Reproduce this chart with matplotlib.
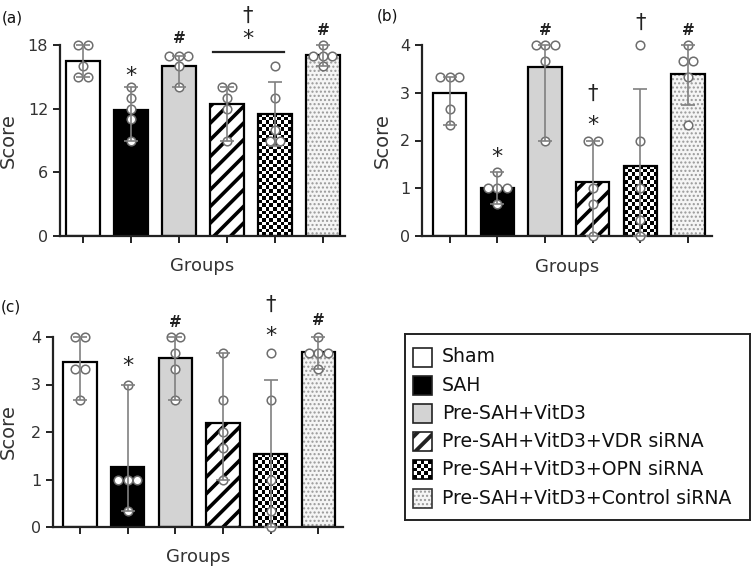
import numpy as np
import matplotlib
matplotlib.use("Agg")
import matplotlib.pyplot as plt
from matplotlib.patches import Rectangle

# ---------------- data ----------------
groups = ["Sham", "SAH", "Pre-SAH+VitD3", "Pre-SAH+VitD3+VDR siRNA",
          "Pre-SAH+VitD3+OPN siRNA", "Pre-SAH+VitD3+Control siRNA"]

means_a = [16.5, 11.9, 16.05, 12.4, 11.5, 17.05]
low_a = [15, 9, 14, 9, 8.5, 16]
high_a = [18, 14, 17, 14, 14.55, 18]
points_a = [[18, 18, 16, 15, 15], [14, 13, 12, 11, 9], [17, 17, 17, 16, 14],
            [14, 14, 13, 12, 9], [16, 13, 10, 9, 9], [18, 17, 17, 17, 16]]

means_b = [3.0, 1.0, 3.53, 1.13, 1.47, 3.4]
low_b = [2.33, 0.67, 2.0, 0.0, 0.0, 2.74]
high_b = [3.33, 1.33, 4.0, 2.0, 3.07, 4.0]
points_b = [[3.33, 3.33, 3.33, 2.67, 2.33], [1.33, 1, 1, 1, 0.67], [4, 4, 4, 3.67, 2],
            [2, 2, 1, 0.67, 0], [4, 2, 1, 0.33, 0], [4, 3.67, 3.67, 3.33, 2.33]]

means_c = [3.48, 1.27, 3.55, 2.2, 1.54, 3.68]
low_c = [2.67, 0.33, 2.67, 1.0, 0.0, 3.33]
high_c = [4.0, 3.0, 4.0, 3.67, 3.1, 4.0]
points_c = [[4, 4, 3.33, 3.33, 2.67], [3, 1, 1, 1, 0.33], [4, 4, 3.67, 3.33, 2.67],
            [3.67, 2.67, 2, 1.67, 1], [3.67, 2.67, 1, 0.33, 0], [4, 3.67, 3.67, 3.67, 3.33]]

yticks_a = [0, 6, 12, 18]
yticks_bc = [0, 1, 2, 3, 4]

# significance marks: (group index, symbol, y value)
marks_a = [(1, "*", 15.1), (2, "#", 18.6), (5, "#", 19.4)]
bracket_a = (3, 4, 17.3)
bracket_marks_a = [("*", 18.55), ("\u2020", 20.7)]
marks_b = [(1, "*", 1.66), (2, "#", 4.31), (3, "*", 2.32), (3, "\u2020", 2.97),
           (4, "\u2020", 4.47), (5, "#", 4.31)]
marks_c = [(1, "*", 3.39), (2, "#", 4.3), (4, "*", 4.03), (4, "\u2020", 4.67), (5, "#", 4.35)]

styles = ["white", "black", "gray", "stripe", "checker", "dots"]

# ---------------- figure ----------------
W, H = 754, 568
fig = plt.figure(figsize=(W / 100, H / 100), dpi=100)
plt.rcParams["font.family"] = ["DejaVu Sans"]

TXT = "#333333"
ERR = "#808080"
PT_EDGE = "#6e6e6e"
BAR_W = 0.7


def px_axes(x0, y_top, x1, y_bot):
    return fig.add_axes([x0 / W, 1 - y_bot / H, (x1 - x0) / W, (y_bot - y_top) / H])


def checker_texture(ax, x, h, w, cell_px):
    trans = ax.transData
    p0 = trans.transform((x - w / 2, 0))
    p1 = trans.transform((x + w / 2, h))
    nx = max(1, int(round(abs(p1[0] - p0[0]) / cell_px)))
    ny = max(1, int(round(abs(p1[1] - p0[1]) / cell_px)))
    ii, jj = np.indices((ny, nx))
    arr = ((ii + jj) % 2).astype(float)
    return arr, (x - w / 2, x + w / 2, 0, h)


def draw_bar(ax, x, h, style, w=BAR_W):
    if style == "white":
        ax.bar(x, h, w, color="white", edgecolor="black", lw=1.6, zorder=1)
    elif style == "black":
        ax.bar(x, h, w, color="black", edgecolor="black", lw=1.6, zorder=1)
    elif style == "gray":
        ax.bar(x, h, w, color="#d3d3d3", edgecolor="black", lw=1.6, zorder=1)
    elif style == "stripe":
        bars = ax.bar(x, h, w, color="white", edgecolor="black", hatch="//", lw=1.6, zorder=1)
        for b in bars:
            if hasattr(b, "set_hatch_linewidth"):
                b.set_hatch_linewidth(2.6)
    elif style == "checker":
        bars = ax.bar(x, h, w, color="white", edgecolor="none", lw=0, zorder=1)
        arr, ext = checker_texture(ax, x, h, w, 3.6)
        im = ax.imshow(arr, extent=ext, cmap="gray", interpolation="nearest",
                       aspect="auto", zorder=1.2, vmin=0, vmax=1)
        im.set_clip_path(bars[0])
        ax.bar(x, h, w, fill=False, edgecolor="black", lw=1.6, zorder=1.5)
    elif style == "dots":
        ax.bar(x, h, w, color="#f5f5f5", edgecolor="#999999", hatch="....", lw=0, zorder=1)
        ax.bar(x, h, w, fill=False, edgecolor="black", lw=1.6, zorder=1.5)


def swarm_x(ax, xc, vals, diam_px=9.5):
    trans = ax.transData
    px_per_unit = trans.transform((1, 0))[0] - trans.transform((0, 0))[0]
    d = diam_px / px_per_unit
    xs = []
    seen = {}
    counts = {}
    for v in vals:
        counts[v] = counts.get(v, 0) + 1
    for v in vals:
        k = seen.get(v, 0)
        n = counts[v]
        xs.append(xc + (k - (n - 1) / 2) * d)
        seen[v] = k + 1
    return xs


def sym_style(sym):
    if sym == "*":
        return 16, "normal"
    if sym == "#":
        return 11, "bold"
    return 15, "normal"


def panel(ax, means, lows, highs, points, yticks, xlim, marks):
    ax.set_xlim(*xlim)
    ax.set_ylim(yticks[0], yticks[-1])
    xs = np.arange(len(means))
    for x, m, s in zip(xs, means, styles):
        draw_bar(ax, x, m, s)
    for x, vals in zip(xs, points):
        px = swarm_x(ax, x, vals)
        ax.plot(px, vals, "o", ms=6.2, mfc="white", mec=PT_EDGE, mew=1.1,
                zorder=3, clip_on=False, ls="none")
    for x, m, lo, hi in zip(xs, means, lows, highs):
        ax.errorbar([x], [m], yerr=[[m - lo], [hi - m]], fmt="none", ecolor=ERR,
                    elinewidth=1.2, capsize=5, capthick=1.2, zorder=4, clip_on=False)
    for gi, sym, yv in marks:
        fs, fw = sym_style(sym)
        ax.text(xs[gi], yv, sym, ha="center", va="center", fontsize=fs, fontweight=fw,
                color="#222222", clip_on=False)
    for side in ["top", "right"]:
        ax.spines[side].set_visible(False)
    for side in ["left", "bottom"]:
        ax.spines[side].set_linewidth(1.6)
        ax.spines[side].set_color("#222222")
    ax.set_xticks(xs)
    ax.set_xticklabels([])
    ax.set_yticks(yticks)
    ax.tick_params(axis="both", direction="out", length=5, width=1.4, color="#222222",
                   labelsize=11.5, labelcolor=TXT)
    ax.set_xlabel("Groups", fontsize=13, color=TXT)
    ax.set_ylabel("Score", fontsize=14, color=TXT)


ax_a = px_axes(60, 45, 345, 236)
panel(ax_a, means_a, low_a, high_a, points_a, yticks_a, (-0.48, 5.46), marks_a)
g0, g1, yb = bracket_a
ax_a.plot([g0 - 0.29, g1 + 0.19], [yb, yb], color="#222222", lw=1.6, clip_on=False)
for sym, yv in bracket_marks_a:
    fs, fw = sym_style(sym)
    ax_a.text((g0 + g1) / 2 - 0.06, yv, sym, ha="center", va="center",
              fontsize=fs, fontweight=fw, color="#222222", clip_on=False)
ax_a.yaxis.set_label_coords(-0.147, 0.5)
ax_a.xaxis.set_label_coords(0.5, -0.11)

ax_b = px_axes(422, 45, 712, 236)
panel(ax_b, means_b, low_b, high_b, points_b, yticks_bc, (-0.58, 5.5), marks_b)
ax_b.yaxis.set_label_coords(-0.103, 0.5)
ax_b.xaxis.set_label_coords(0.5, -0.115)

ax_c = px_axes(53, 337, 343, 527)
panel(ax_c, means_c, low_c, high_c, points_c, yticks_bc, (-0.57, 5.52), marks_c)
ax_c.yaxis.set_label_coords(-0.121, 0.5)
ax_c.xaxis.set_label_coords(0.5, -0.11)

fig.text(2 / W, 1 - 18 / H, "(a)", fontsize=11, va="center", ha="left", color="#111111")
fig.text(377 / W, 1 - 16 / H, "(b)", fontsize=11, va="center", ha="left", color="#111111")
fig.text(1 / W, 1 - 307 / H, "(c)", fontsize=11, va="center", ha="left", color="#111111")

# ---------------- legend (manual) ----------------
LX0, LY0, LX1, LY1 = 405, 334, 750, 520
lax = px_axes(LX0, LY0, LX1, LY1)
lw_, lh_ = LX1 - LX0, LY1 - LY0
lax.set_xticks([])
lax.set_yticks([])
for sp in lax.spines.values():
    sp.set_linewidth(1.4)
    sp.set_color("#222222")
row_y = [23 + 28.2 * i for i in range(len(groups))]
for name, st, yc in zip(groups, styles, row_y):
    x0, s = 8, 19
    if st == "checker":
        lax.add_patch(Rectangle((x0, yc - s / 2), s, s, facecolor="white", edgecolor="none", zorder=1))
        n = 5
        ii, jj = np.indices((n, n))
        lax.imshow(((ii + jj) % 2).astype(float), extent=(x0, x0 + s, yc + s / 2, yc - s / 2),
                   cmap="gray", interpolation="nearest", aspect="auto", vmin=0, vmax=1, zorder=2)
        lax.add_patch(Rectangle((x0, yc - s / 2), s, s, fill=False, edgecolor="black", lw=1.2, zorder=3))
    elif st == "dots":
        lax.add_patch(Rectangle((x0, yc - s / 2), s, s, facecolor="#f5f5f5", edgecolor="#999999",
                                hatch="....", lw=0, zorder=1))
        lax.add_patch(Rectangle((x0, yc - s / 2), s, s, fill=False, edgecolor="#333333", lw=1.2, zorder=3))
    else:
        fc = {"white": "white", "black": "black", "gray": "#d3d3d3", "stripe": "white"}[st]
        r = Rectangle((x0, yc - s / 2), s, s, facecolor=fc, edgecolor="#222222", lw=1.2,
                      hatch="//" if st == "stripe" else None, zorder=1)
        if st == "stripe" and hasattr(r, "set_hatch_linewidth"):
            r.set_hatch_linewidth(2.8)
        lax.add_patch(r)
    lax.text(37, yc, name, fontsize=13.6, va="center", ha="left", color="#111111")
lax.set_xlim(0, lw_)
lax.set_ylim(lh_, 0)

fig.savefig("out.png", dpi=100)
